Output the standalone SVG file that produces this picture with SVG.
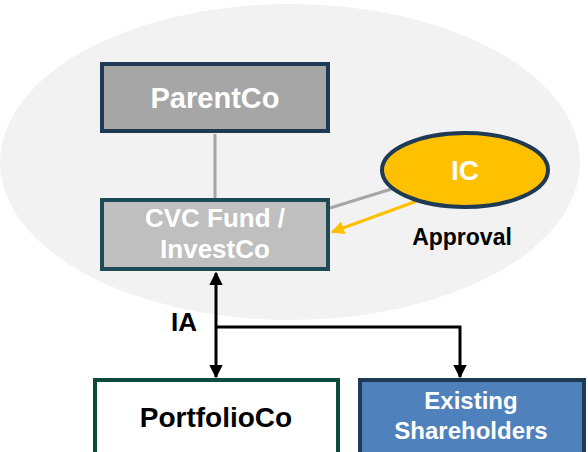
<svg xmlns="http://www.w3.org/2000/svg" width="588" height="452" viewBox="0 0 588 452">
<defs>
<style>
.t{font-family:"Liberation Sans",Arial,sans-serif;font-weight:bold;text-anchor:middle}
.w{fill:#ffffff}
.k{fill:#000000}
</style>
<marker id="ab" viewBox="0 0 10 10" refX="9" refY="5" markerWidth="4.5" markerHeight="4.5" orient="auto-start-reverse"><path d="M0,0 L10,5 L0,10 z" fill="#000"/></marker>
<marker id="ao" viewBox="0 0 10 10" refX="9" refY="5" markerWidth="4.5" markerHeight="4.5" orient="auto"><path d="M0,0 L10,5 L0,10 z" fill="#ffc000"/></marker>
</defs>
<ellipse cx="290" cy="162" rx="290" ry="158" fill="#f2f2f2"/>
<g id="connectors">
<line x1="215" y1="134" x2="215" y2="198" stroke="#a6a6a6" stroke-width="3"/>
<line x1="398" y1="187" x2="330" y2="208" stroke="#a6a6a6" stroke-width="3"/>
<line x1="417" y1="201" x2="332" y2="232" stroke="#ffc000" stroke-width="3" marker-end="url(#ao)"/>
<line x1="216" y1="273" x2="216" y2="377" stroke="#000" stroke-width="3" marker-start="url(#ab)" marker-end="url(#ab)"/>
<polyline points="216,327 460,327 460,377" fill="none" stroke="#000" stroke-width="3" marker-end="url(#ab)"/>
<text class="t k" x="184" y="331" font-size="26">IA</text>
<text class="t k" x="462" y="245" font-size="23">Approval</text>
</g>
<g id="parentco">
<rect x="102" y="64" width="226" height="67" fill="#a6a6a6" stroke="#1f3a55" stroke-width="4"/>
<text class="t w" x="215" y="108" font-size="29">ParentCo</text>
</g>
<g id="cvcfund">
<rect x="102" y="200" width="226" height="69" fill="#bfbfbf" stroke="#1e4a55" stroke-width="4"/>
<text class="t w" x="215" y="227" font-size="26">CVC Fund /</text>
<text class="t w" x="215" y="258" font-size="26">InvestCo</text>
</g>
<g id="ic">
<ellipse cx="465" cy="170" rx="83" ry="37" fill="#ffc000" stroke="#1f3a55" stroke-width="4"/>
<text class="t w" x="465" y="180" font-size="28">IC</text>
</g>
<g id="portfolioco">
<rect x="95" y="380" width="243" height="80" fill="#ffffff" stroke="#0b4a3c" stroke-width="4"/>
<text class="t k" x="216" y="427" font-size="28">PortfolioCo</text>
</g>
<g id="shareholders">
<rect x="360" y="380" width="224" height="80" fill="#4f81bd" stroke="#1f3a55" stroke-width="4"/>
<text class="t w" x="471" y="409" font-size="24">Existing</text>
<text class="t w" x="471" y="439" font-size="24">Shareholders</text>
</g>
</svg>
